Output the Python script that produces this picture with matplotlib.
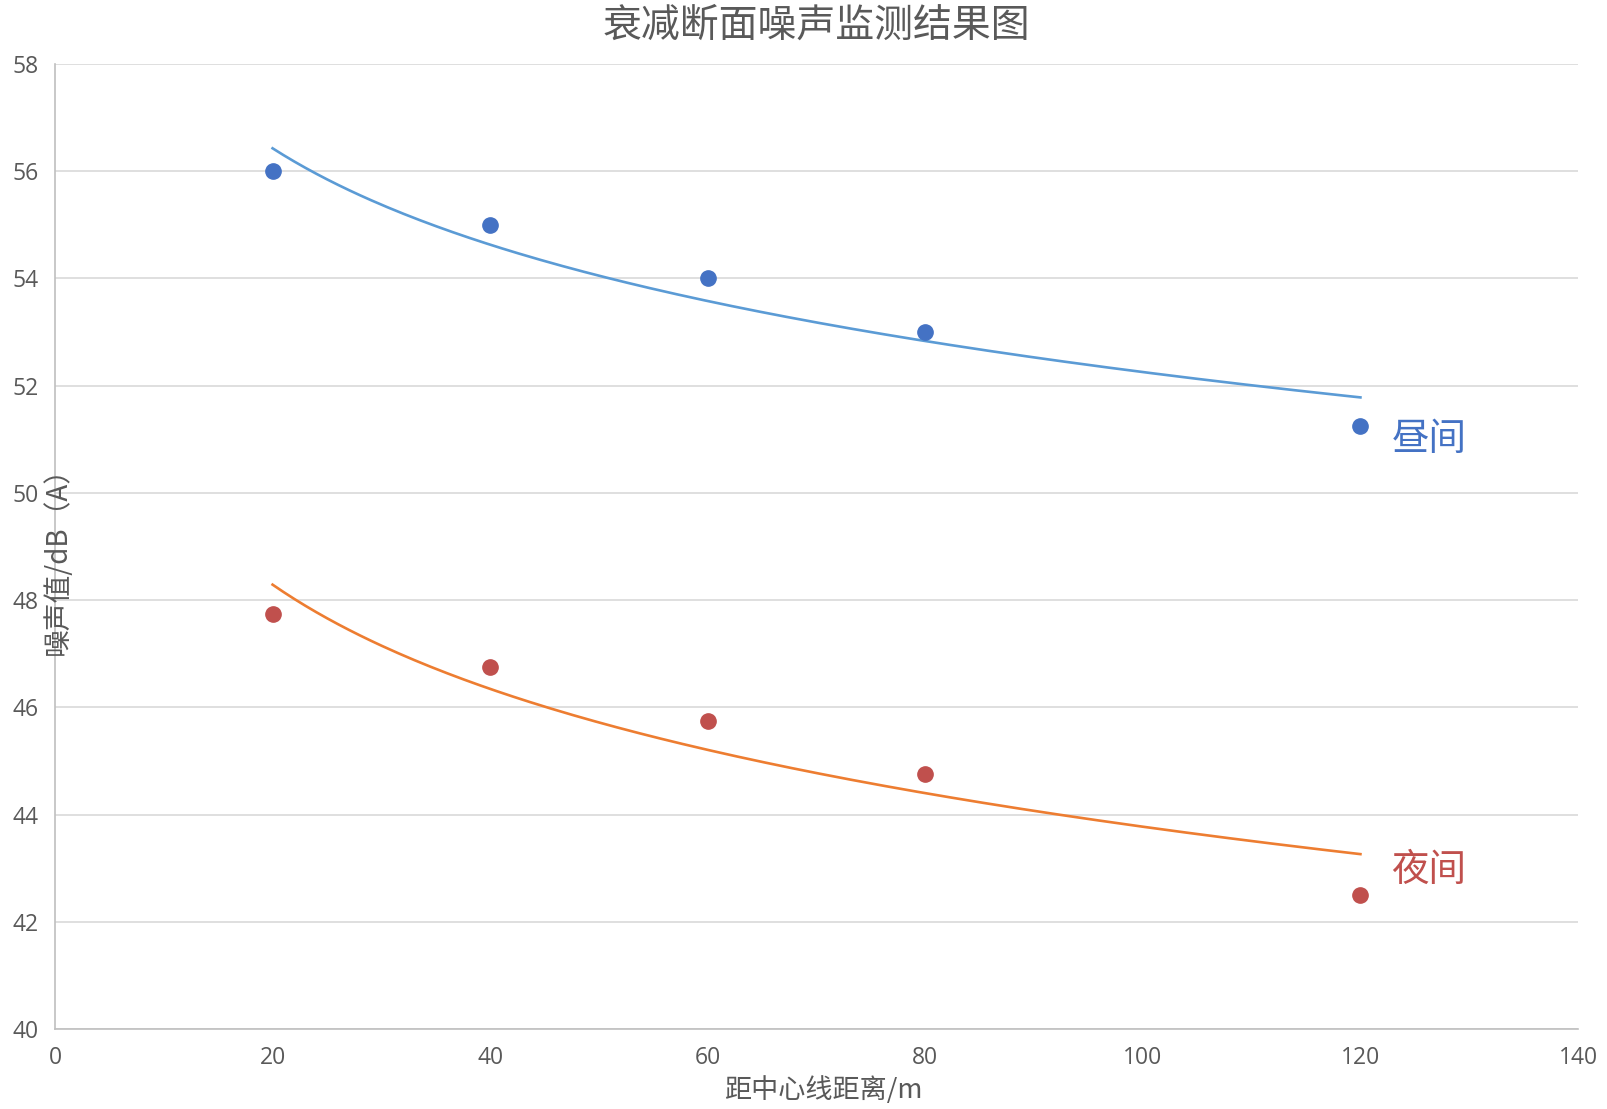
import numpy as np
import matplotlib
matplotlib.use("Agg")
import matplotlib.pyplot as plt

plt.rcParams['font.family'] = ['Noto Sans CJK SC', 'DejaVu Sans']

# 监测数据
distance = [20, 40, 60, 80, 120]
day_noise = [56.0, 55.0, 54.0, 53.0, 51.25]
night_noise = [47.75, 46.75, 45.75, 44.75, 42.5]

day_color = '#4472C4'
night_color = '#C0504D'
day_trend_color = '#5B9BD5'
night_trend_color = '#ED7D31'
grey = '#595959'

fig = plt.figure(figsize=(16.08, 11.09), dpi=100)
ax = fig.add_axes([55/1608, 1 - 1029/1109, (1578 - 55)/1608, (1029 - 64)/1109])

# 对数趋势线 (同 Excel: y = a*ln(x) + b)
xs = np.linspace(distance[0], distance[-1], 200)
for ys, c in [(day_noise, day_trend_color), (night_noise, night_trend_color)]:
    k, b = np.polyfit(np.log(distance), ys, 1)
    ax.plot(xs, k*np.log(xs) + b, color=c, lw=1.9, zorder=2)

ax.plot(distance, day_noise, 'o', color=day_color, ms=11, zorder=3)
ax.plot(distance, night_noise, 'o', color=night_color, ms=11, zorder=3)

ax.set_xlim(0, 140)
ax.set_ylim(40, 58)
ax.set_xticks(range(0, 141, 20))
ax.set_yticks(range(40, 59, 2))
ax.grid(axis='y', color='#D9D9D9', lw=1.2)
ax.set_axisbelow(True)
for s in ['top', 'right']:
    ax.spines[s].set_visible(False)
for s in ['left', 'bottom']:
    ax.spines[s].set_color('#BFBFBF')
    ax.spines[s].set_linewidth(1.2)
ax.tick_params(length=0, labelsize=16.5, labelcolor=grey, pad=12)
for lab in ax.get_xticklabels() + ax.get_yticklabels():
    lab.set_family(['Open Sans', 'DejaVu Sans'])

ax.text(126.3, 50.99, '昼间', color=day_color, fontsize=27, ha='center', va='center')
ax.text(126.3, 42.96, '夜间', color=night_color, fontsize=27, ha='center', va='center')

fig.text(816/1608, 1 - 26/1109, '衰减断面噪声监测结果图', color=grey, fontsize=28,
         ha='center', va='center')
fig.text(823/1608, 1 - 1090/1109, '距中心线距离/m', color=grey, fontsize=19.5,
         ha='center', va='center')
fig.text(58/1608, 1 - 554/1109, '噪声值/dB（A）', color=grey, fontsize=20,
         ha='center', va='center', rotation=90)

fig.savefig('out.png', dpi=100)
